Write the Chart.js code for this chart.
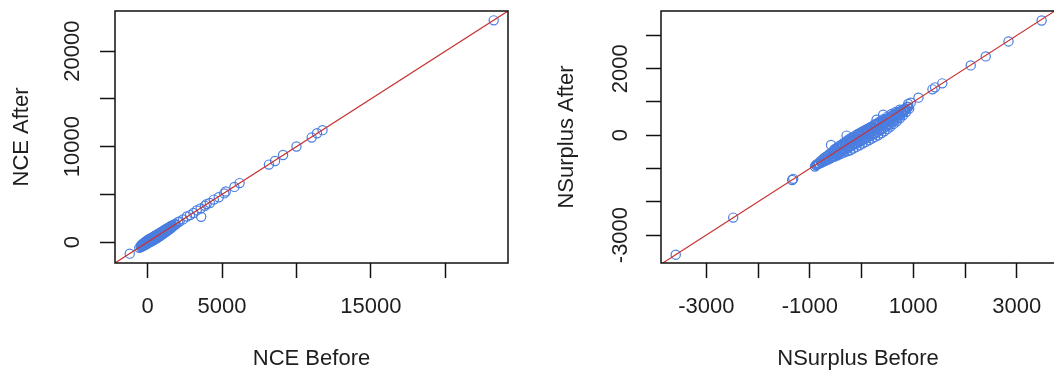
<!DOCTYPE html>
<html>
<head>
<meta charset="utf-8">
<script src="https://cdn.jsdelivr.net/npm/chart.js@4/dist/chart.umd.min.js"></script>
<style>
  html, body { margin: 0; padding: 0; background: #fff; overflow: hidden; }
  body { width: 1054px; height: 374px; position: relative; }
  #leftBox { position: absolute; left: 0; top: 0; width: 527px; height: 374px; }
  #rightBox { position: absolute; left: 527px; top: 0; width: 540px; height: 374px; }
</style>
</head>
<body>
<div id="leftBox"><canvas id="nceChart" width="527" height="374"></canvas></div>
<div id="rightBox"><canvas id="surplusChart" width="540" height="374"></canvas></div>
<script>
// NCE: before vs after (tail first, then the dense cluster near zero)
const nceBefore = [
  23250, 11750, 11380, 11020, 10000, 9100, 8560, 8150, 6180, 5830, 5250, 5150, 4780, 4450,
  4180, 3960, 3850, 3600, 3560, 3300, 3080, 2850, 2640, 2380, 2150, 2050, -1200, -560,
  -420, -380, -330, -300, -260, -220, -200, -170, -140, -120, -100, -80, -60, -40, -20, 0,
  20, 40, 60, 80, 100, 120, 150, 170, 200, 230, 250, 280, 300, 330, 360, 390, 420, 450,
  480, 510, 540, 570, 600, 640, 680, 720, 760, 800, 850, 900, 950, 1000, 1060, 1120, 1180,
  1240, 1300, 1380, 1450, 1520, 1600, 1700, 1800, 1900,
  200, 300, 400, 500, 600, 700, 800, 900, 1000, 1100, 0, 100, -200, -300, 350, 450, 550, 650, 750, 850,
  -460, -430, -390, -350, -310, -270, -230, -190, -150, -110, -70, -30, 10, 50, 90, 130, 170, 210,
  250, 290, 330, 370, 410, 450, 490, 530, 570, 610, 650, 690, 730, 770, 810, 850, 890, 930, 970,
  1010, 1050, 1090, 1130, 1170, 1210, 1250, 1290, 1330, 1370, 1410, 1450, 1490, 1530, 1570, 1610, 1650,
  -400, -340, -280, -240, -180, -130, -90, -50, -10, 30, 70, 110, 140, 180, 220, 260, 310, 340, 380,
  430, 470, 520, 560, 620, 660, 710, 740, 790, 830, 880, 920, 980, 1040, 1080, 1150, 1200, 1270, 1320,
  1400, 1480, 1550, 1640, 1750, 1850
];
const nceAfter = [
  23230, 11730, 11400, 10950, 10020, 9120, 8500, 8120, 6180, 5780, 5300, 5100, 4700, 4450,
  4100, 3980, 3800, 2650, 3520, 3320, 3050, 2830, 2680, 2380, 2150, 2100, -1210, -600,
  -350, -460, -200, -380, -120, -300, -60, -250, 30, -200, 80, -150, 120, -100, 180, -60,
  210, -30, 250, 20, 300, 40, 340, 60, 380, 100, 420, 150, 460, 180, 500, 220, 560, 260,
  620, 330, 680, 380, 740, 420, 800, 520, 860, 600, 920, 700, 1050, 820, 1150, 940, 1260,
  1080, 1380, 1230, 1520, 1400, 1650, 1620, 1850, 1850,
  150, 250, 420, 480, 600, 680, 820, 880, 1010, 1080, 20, 110, -180, -280, 330, 470, 520, 640, 740, 860,
  -520, -330, -450, -250, -390, -170, -330, -100, -270, -20, -220, 80, -120, 170, -60, 250, 20, 330,
  90, 420, 170, 500, 250, 590, 330, 660, 420, 740, 500, 820, 580, 900, 660, 980, 750, 1060, 830,
  1150, 920, 1230, 1000, 1300, 1090, 1370, 1180, 1450, 1280, 1520, 1370, 1600, 1460, 1680, 1550, 1740,
  -390, -350, -260, -250, -190, -120, -100, -40, -20, 40, 60, 120, 130, 190, 210, 270, 300, 350, 370,
  440, 460, 530, 550, 630, 650, 720, 730, 800, 820, 890, 910, 990, 1030, 1090, 1140, 1210, 1260, 1330,
  1390, 1490, 1540, 1650, 1730, 1870
];
const nceTicks = [0, 5000, 10000, 15000, 20000];
const nceXLabels = [0, 5000, 15000];
const nceYLabels = [0, 10000, 20000];
const nceRange = [-2190, 24210];

// NSurplus: before vs after
const surBefore = [
  3480, 2840, 2400, 2110, 1560, 1420, 1370, 1100, 950, 900,
  -3590, -2480, -1340, -1320, -900, -820, -590, -290, 290, 418,
  -880, -860, -780, -740, -700, -660, -640, -600, -580,
  -560, -540, -520, -500, -480, -460, -440, -420, -400, -380, -360, -340, -320, -300, -280,
  -260, -240, -220, -200, -180, -160, -140, -120, -100, -80, -60, -40, -20, 0, 20, 40, 60,
  80, 100, 120, 140, 160, 180, 200, 220, 240, 260, 280, 300, 320, 340, 360, 380, 400, 420,
  440, 460, 480, 500, 520, 540, 560, 580, 600, 620, 640, 660, 680, 700, 720, 740, 760, 780,
  800, 820, 840, 860, 880,
  -300, -200, -100, 0, 100, 200, 300, 400, 500, 600, -400, -500, -50, 50, 150, 250, 350, 450,
  550, 650, -250, -150,
  -880, -850, -820, -790, -760, -730, -700, -670, -640, -610, -580, -550, -520, -490, -460, -430,
  -400, -370, -340, -310, -280, -250, -220, -190, -160, -130, -100, -70, -40, -10, 20, 50, 80, 110,
  140, 170, 200, 230, 260, 290, 320, 350, 380, 410, 440, 470, 500, 530, 560, 590, 620, 650, 680,
  710, 740, 770, 800, 830, 860, 890, 920,
  -840, -780, -720, -660, -600, -540, -480, -420, -360, -300, -240, -180, -120, -60, 0, 60, 120,
  180, 240, 300, 360, 420, 480, 540, 600, 660, 720, 780, 840, 900,
  -700, -620, -540, -460, -380, -300, -220, -140, -60, 20, 100, 180, 260, 340, 420, 500, 580, 660, 740
];
const surAfter = [
  3450, 2820, 2370, 2100, 1560, 1440, 1380, 1130, 980, 940,
  -3590, -2475, -1345, -1310, -940, -840, -290, -10, 465, 615,
  -900, -880, -800, -720, -760, -620, -700, -560, -640,
  -500, -620, -420, -580, -380, -540, -330, -500, -300, -470, -250, -430, -220, -400, -160,
  -360, -120, -330, -80, -300, -40, -260, -10, -240, 30, -200, 60, -180, 100, -140, 130, -110,
  170, -80, 200, -40, 230, -10, 260, 30, 300, 60, 330, 100, 360, 140, 400, 170, 430, 210,
  460, 250, 500, 290, 530, 330, 560, 380, 600, 430, 640, 480, 670, 540, 700, 600, 730, 660,
  770, 720, 800, 790, 850,
  -300, -200, -100, -20, 90, 180, 280, 380, 470, 560, -420, -480, -60, 40, 130, 230, 320, 420,
  520, 610, -260, -150,
  -900, -860, -850, -770, -800, -700, -740, -640, -720, -580, -660, -520, -640, -440, -600, -400,
  -560, -330, -520, -280, -480, -200, -450, -150, -400, -80, -350, -40, -300, 20, -250, 80, -200, 130,
  -150, 180, -100, 230, -50, 280, 0, 330, 60, 380, 120, 430, 190, 480, 260, 540, 340, 600, 420,
  660, 510, 720, 600, 780, 700, 850, 800,
  -860, -830, -780, -730, -690, -630, -580, -530, -470, -420, -350, -290, -230, -170, -110, -40, 20,
  80, 140, 200, 260, 320, 380, 440, 500, 570, 630, 700, 760, 850,
  -660, -560, -470, -390, -300, -220, -150, -70, 10, 80, 160, 250, 330, 400, 480, 560, 640, 700, 770
];
const surTicks = [-3000, -2000, -1000, 0, 1000, 2000, 3000];
const surXLabels = [-3000, -1000, 1000, 3000];
const surYLabels = [-3000, 0, 2000];
const surXRange = [-3875, 3738];
const surYRange = [-3840, 3735];

const FONT = 'Liberation Sans, Arial, sans-serif';
const TEXT = '#1e1e1e';

const boxPlugin = {
  id: 'plotBox',
  afterDraw(chart) {
    const a = chart.chartArea;
    const ctx = chart.ctx;
    ctx.save();
    ctx.strokeStyle = '#111';
    ctx.lineWidth = 1.5;
    ctx.strokeRect(a.left, a.top, a.right - a.left, a.bottom - a.top);
    ctx.restore();
  }
};

function makeScatter(canvasId, xs, ys, opts) {
  const points = xs.map((x, i) => ({ x: x, y: ys[i] }));
  const lo = Math.max(opts.xRange[0], opts.yRange[0]);
  const hi = Math.min(opts.xRange[1], opts.yRange[1]);

  const axisBase = (ticks, range) => ({
    type: 'linear',
    min: range[0],
    max: range[1],
    afterBuildTicks: (scale) => { scale.ticks = ticks.map(v => ({ value: v })); },
    grid: { drawOnChartArea: false, tickLength: 15, tickColor: '#111', tickWidth: 1.5 },
    border: { display: false }
  });

  const xAxis = axisBase(opts.ticks, opts.xRange);
  xAxis.ticks = {
    autoSkip: false, maxRotation: 0, minRotation: 0, padding: 16,
    color: TEXT, font: { family: FONT, size: 22 },
    callback: (v) => opts.xLabels.includes(v) ? String(v) : ''
  };
  xAxis.title = { display: true, text: opts.xTitle, color: TEXT, font: { family: FONT, size: 22 }, padding: { top: 0, bottom: 2 } };
  xAxis.afterFit = (scale) => { scale.height = 111; };

  const yAxis = axisBase(opts.ticks, opts.yRange);
  yAxis.ticks = {
    autoSkip: false, minRotation: 90, maxRotation: 90, crossAlign: 'center', padding: opts.yPad,
    color: TEXT, font: { family: FONT, size: 22 },
    callback: (v) => opts.yLabels.includes(v) ? String(v) : ''
  };
  yAxis.title = { display: true, text: opts.yTitle, color: TEXT, font: { family: FONT, size: 22 }, padding: { top: opts.yTitlePad, bottom: 0 } };
  yAxis.afterFit = (scale) => { scale.width = opts.yWidth; };

  new Chart(document.getElementById(canvasId), {
    type: 'scatter',
    data: {
      datasets: [
        {
          type: 'line',
          data: [{ x: lo, y: lo }, { x: hi, y: hi }],
          borderColor: '#c83232',
          borderWidth: 1.2,
          pointRadius: 0,
          order: 0
        },
        {
          data: points,
          pointStyle: 'circle',
          pointRadius: 4.6,
          pointHoverRadius: 4.6,
          pointBorderWidth: 1.2,
          pointBorderColor: '#4a7ee0',
          pointBackgroundColor: 'rgba(0,0,0,0)',
          showLine: false,
          order: 1
        }
      ]
    },
    options: {
      responsive: false,
      animation: false,
      devicePixelRatio: 1,
      layout: { padding: { top: 11, right: opts.rightPad, bottom: 0, left: 0 } },
      plugins: { legend: { display: false }, tooltip: { enabled: false } },
      scales: { x: xAxis, y: yAxis }
    },
    plugins: [boxPlugin]
  });
}

makeScatter('nceChart', nceBefore, nceAfter, {
  ticks: nceTicks, xLabels: nceXLabels, yLabels: nceYLabels,
  xRange: nceRange, yRange: nceRange,
  xTitle: 'NCE Before', yTitle: 'NCE After',
  yWidth: 115, yPad: -4, yTitlePad: 9, rightPad: 19
});

makeScatter('surplusChart', surBefore, surAfter, {
  ticks: surTicks, xLabels: surXLabels, yLabels: surYLabels,
  xRange: surXRange, yRange: surYRange,
  xTitle: 'NSurplus Before', yTitle: 'NSurplus After',
  yWidth: 134, yPad: -3, yTitlePad: 27, rightPad: 12
});
</script>
</body>
</html>
